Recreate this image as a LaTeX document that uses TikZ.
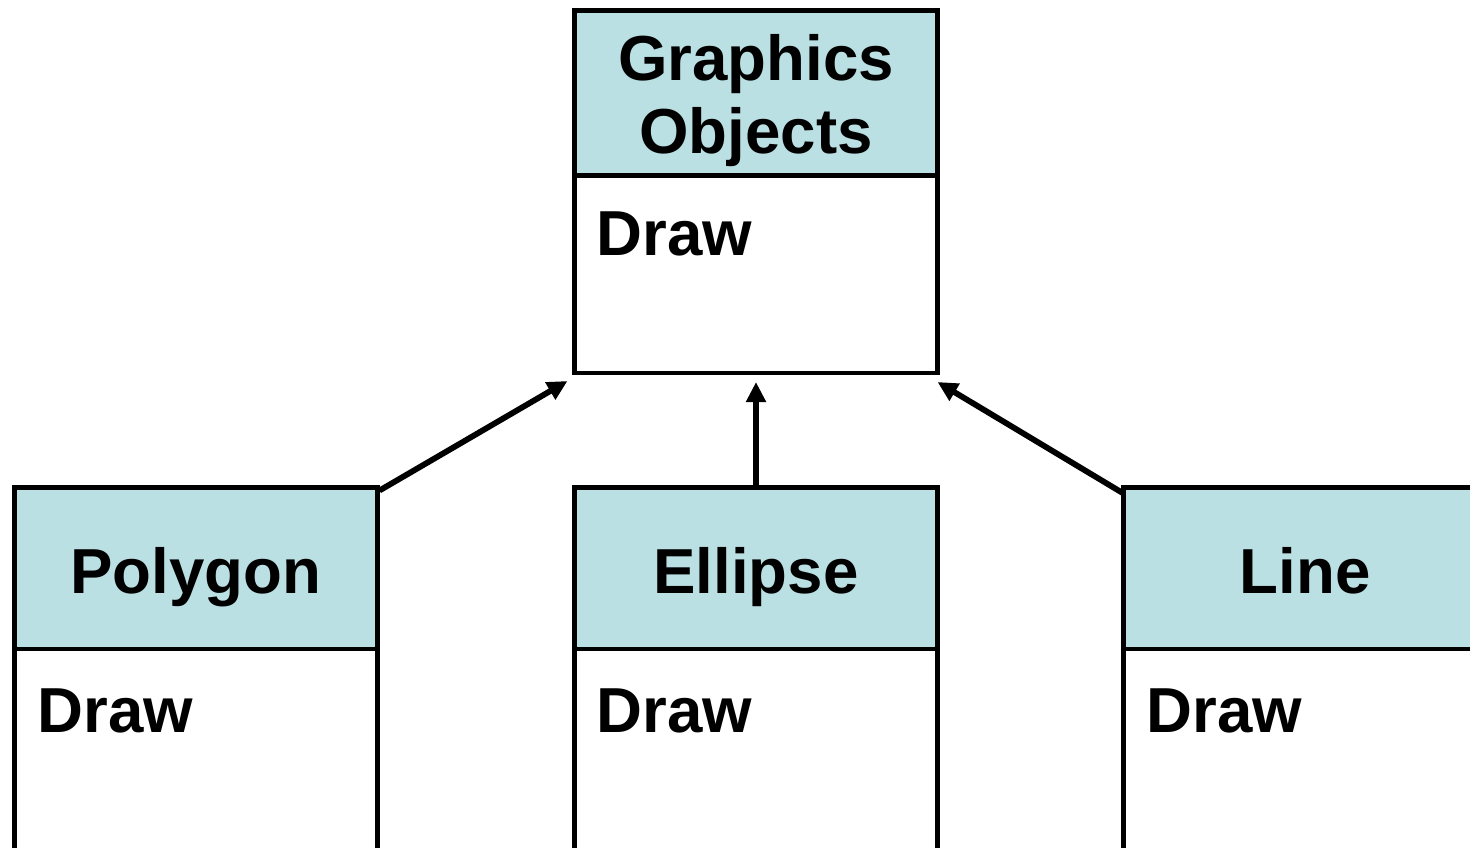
\documentclass[tikz,border=0pt]{standalone}
\usepackage{fontspec}
\setmainfont{Liberation Sans}
\usetikzlibrary{arrows.meta,calc}
\definecolor{hdrblue}{RGB}{186,224,227}
\begin{document}
\begin{tikzpicture}[x=0.5pt,y=-0.5pt,
  boxline/.style={draw=black,line width=2.4pt,outer sep=0pt,inner sep=0pt,rectangle},
  hdrbox/.style={boxline,fill=hdrblue,minimum width=181.5pt},
  bodybox/.style={boxline,fill=white,minimum width=181.5pt},
  lbl/.style={inner sep=0pt,font=\bfseries\fontsize{31.8}{36}\selectfont},
  inherit/.style={draw=black,line width=2.9pt,-{Triangle[length=10pt,width=9.5pt]}}]
\useasboundingbox (0,0) rectangle (1470,847);
\clip (0,0) rectangle (1470,847);
% top class
\node[hdrbox,minimum height=82.5pt,anchor=north west] (ghdr) at (574.5,10.5) {};
\node[bodybox,minimum height=98.75pt,anchor=north west] (gbody) at (ghdr.south west) {};
\node[lbl,anchor=base] (gt1) at (756,80) {Graphics};
\node[lbl,anchor=base] (gt2) at (756,153) {Objects};
\node[lbl,anchor=base west] (gd) at (596,255) {Draw};
% polygon
\node[hdrbox,minimum height=80.75pt,anchor=north west] (phdr) at (14.5,487.5) {};
\node[bodybox,minimum height=110pt,anchor=north west] (pbody) at (phdr.south west) {};
\node[lbl,anchor=base] (pt) at (196,593) {Polygon};
\node[lbl,anchor=base west] (pd) at (37,732) {Draw};
% ellipse
\node[hdrbox,minimum height=80.75pt,anchor=north west] (ehdr) at (574.5,487.5) {};
\node[bodybox,minimum height=110pt,anchor=north west] (ebody) at (ehdr.south west) {};
\node[lbl,anchor=base] (et) at (756,593) {Ellipse};
\node[lbl,anchor=base west] (ed) at (596,732) {Draw};
% line
\node[hdrbox,minimum height=80.75pt,anchor=north west] (lhdr) at (1123.5,487.5) {};
\node[bodybox,minimum height=110pt,anchor=north west] (lbody) at (lhdr.south west) {};
\node[lbl,anchor=base] (lt) at (1305,593) {Line};
\node[lbl,anchor=base west] (ld) at (1146,732) {Draw};
% inheritance arrows
\draw[inherit] ($(phdr.north east)+(2,3)$) -- ($(gbody.south west)+(-7,8)$);
\draw[inherit] (ehdr.north) -- ($(gbody.south)+(0,9)$);
\draw[inherit] ($(lhdr.north west)+(0,6)$) -- ($(gbody.south east)+(0,9)$);
\end{tikzpicture}
\end{document}
